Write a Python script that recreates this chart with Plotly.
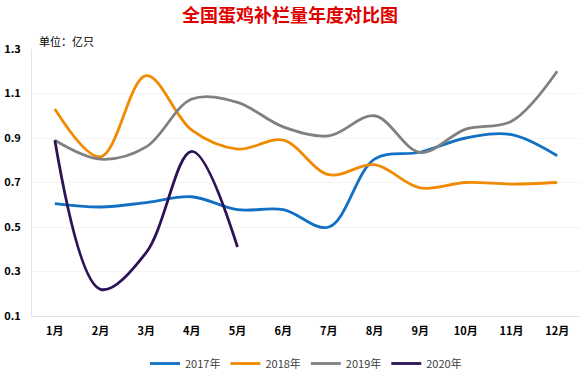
import plotly.graph_objects as go

months = ["1月", "2月", "3月", "4月", "5月", "6月", "7月", "8月", "9月", "10月", "11月", "12月"]
y2017 = [0.605, 0.59, 0.61, 0.636, 0.578, 0.578, 0.50, 0.805, 0.836, 0.90, 0.915, 0.82]
y2018 = [1.03, 0.815, 1.18, 0.935, 0.85, 0.89, 0.735, 0.78, 0.676, 0.70, 0.693, 0.70]
y2019 = [0.89, 0.805, 0.86, 1.075, 1.06, 0.95, 0.91, 1.0, 0.835, 0.94, 0.975, 1.2]
y2020 = [0.89, 0.22, 0.385, 0.84, 0.41]
names = ["2017年", "2018年", "2019年", "2020年"]
colors = ["#1170C4", "#F08A00", "#808080", "#2B1356"]
yticks = [0.1, 0.3, 0.5, 0.7, 0.9, 1.1, 1.3]

fig = go.Figure()
for name, ys, c in zip(names, [y2017, y2018, y2019, y2020], colors):
    fig.add_trace(go.Scatter(
        x=months[:len(ys)], y=ys, name=name, mode="lines",
        line=dict(color=c, width=2.8, shape="spline", smoothing=1.0),
    ))

fig.update_layout(
    width=580, height=378,
    margin=dict(l=32, r=0, t=49, b=60),
    paper_bgcolor="white", plot_bgcolor="white",
    font=dict(family="Noto Sans CJK SC", color="#000000"),
    title=dict(text="<b>全国蛋鸡补栏量年度对比图</b>", x=0.5, xanchor="center",
               y=0.958, yanchor="middle",
               font=dict(size=18, color="#E00000", family="Noto Sans CJK SC")),
    showlegend=True,
    legend=dict(orientation="h", x=0.5, xanchor="center", y=-0.178, yanchor="middle",
                font=dict(size=11, color="#404040"), itemwidth=30, tracegroupgap=0),
    xaxis=dict(type="category", categoryorder="array", categoryarray=months,
               range=[-0.5, 11.5], automargin=False,
               tickvals=months, ticktext=[f"<b>{m}</b>" for m in months],
               showgrid=False, showline=True, linecolor="#E4E4E4", linewidth=1,
               ticks="", tickfont=dict(size=11, color="#000000"), ticklabelstandoff=5,
               fixedrange=True),
    yaxis=dict(range=[0.1, 1.3], tickvals=yticks, ticktext=[f"<b>{v:.1f}</b>" for v in yticks],
               automargin=False,
               showgrid=True, gridcolor="#F4F4F4", gridwidth=1,
               showline=True, linecolor="#E4E4E4", linewidth=1,
               zeroline=False, ticks="", tickfont=dict(size=11, color="#000000"),
               ticklabelstandoff=8),
    annotations=[dict(text="单位：亿只", xref="paper", yref="paper", x=0.01, y=1.0,
                      xanchor="left", yanchor="bottom", yshift=-2, showarrow=False,
                      font=dict(size=11, color="#000000"))],
)

fig.write_html("out.html", config={"displayModeBar": False},
               post_script="document.body.style.margin='0';document.body.style.padding='0';")
